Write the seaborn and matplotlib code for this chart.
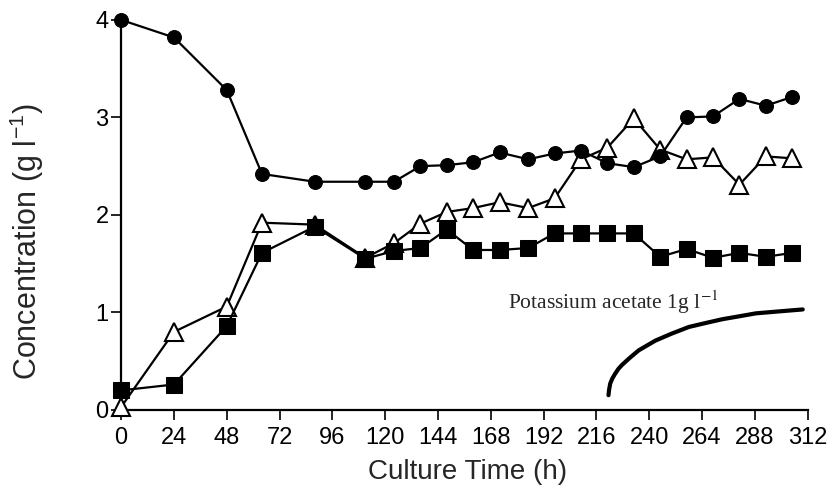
"""
Culture time course: three concentration series with potassium acetate feed curve
"""

import numpy as np
import pandas as pd
import matplotlib.pyplot as plt
import seaborn as sns

# values
TIME_H = [0, 24, 48, 64, 88, 111, 124, 136, 148, 160, 172, 185, 197, 209,
          221, 233, 245, 257, 269, 281, 293, 305]
CIRCLES = [4.00, 3.82, 3.28, 2.42, 2.34, 2.34, 2.34, 2.50, 2.51, 2.54, 2.64,
           2.57, 2.63, 2.66, 2.53, 2.49, 2.60, 3.00, 3.01, 3.19, 3.12, 3.21]
TRIANGLES = [0.03, 0.80, 1.06, 1.92, 1.90, 1.56, 1.71, 1.91, 2.03, 2.07, 2.13,
             2.07, 2.17, 2.57, 2.69, 2.99, 2.67, 2.57, 2.59, 2.31, 2.60, 2.58]
SQUARES = [0.20, 0.26, 0.86, 1.61, 1.88, 1.55, 1.63, 1.66, 1.85, 1.64, 1.64,
           1.66, 1.81, 1.81, 1.81, 1.81, 1.57, 1.65, 1.56, 1.61, 1.57, 1.61]

# potassium acetate feed curve (annotation)
ACETATE_T = [221.5, 221.8, 222.3, 223.2, 224.5, 226.0, 227.6, 231.0, 235.2,
             242.8, 250.0, 258.0, 265.5, 273.3, 281.0, 288.5, 299.0, 309.8]
ACETATE_C = [0.15, 0.21, 0.27, 0.32, 0.37, 0.42, 0.46, 0.53, 0.61, 0.71,
             0.78, 0.85, 0.89, 0.93, 0.96, 0.99, 1.01, 1.03]

X_TICKS = list(range(0, 313, 24))
Y_TICKS = [0, 1, 2, 3, 4]


def main():
    sns.set_style("ticks")
    plt.rcParams["font.family"] = ["Liberation Sans", "DejaVu Sans"]
    plt.rcParams["mathtext.fontset"] = "custom"
    plt.rcParams["mathtext.rm"] = "Liberation Sans"
    plt.rcParams["mathtext.it"] = "Liberation Sans:italic"

    fig = plt.figure(figsize=(8.3, 4.98), dpi=100)
    ax = fig.add_axes([0.146, 0.177, 0.827, 0.783])

    df = pd.DataFrame({
        "time": TIME_H,
        "circles": CIRCLES,
        "triangles": TRIANGLES,
        "squares": SQUARES,
    })

    common = dict(x="time", data=df, ax=ax, color="black", linewidth=1.6,
                  clip_on=False, errorbar=None)
    sns.lineplot(y="triangles", marker="^", markersize=13,
                 markerfacecolor="white", markeredgecolor="black",
                 markeredgewidth=1.5, zorder=3, **common)
    sns.lineplot(y="squares", marker="s", markersize=12,
                 markerfacecolor="black", markeredgecolor="black",
                 zorder=4, **common)
    sns.lineplot(y="circles", marker="o", markersize=10,
                 markerfacecolor="black", markeredgecolor="black",
                 zorder=5, **common)

    # acetate feed curve and its label
    ax.plot(ACETATE_T, ACETATE_C, color="black", linewidth=3.0,
            solid_capstyle="round", clip_on=False, zorder=2)
    ax.text(176, 1.03, r"Potassium acetate 1g l$^{\mathrm{-1}}$",
            fontsize=15.5, family="Liberation Serif", math_fontfamily="stix",
            ha="left", va="baseline")

    ax.set_xlim(0, 312)
    ax.set_ylim(0, 4)
    ax.set_xticks(X_TICKS)
    ax.set_yticks(Y_TICKS)
    ax.tick_params(axis="both", direction="out", length=7, width=1.2,
                   labelsize=17, colors="black")
    ax.tick_params(axis="x", pad=5)
    ax.tick_params(axis="y", pad=2)

    for side in ["top", "right"]:
        ax.spines[side].set_visible(False)
    for side in ["left", "bottom"]:
        ax.spines[side].set_linewidth(1.6)
        ax.spines[side].set_color("black")

    ax.set_xlabel("Culture Time (h)", fontsize=20)
    ax.set_ylabel(r"Concentration (g l$^{-1}$)", fontsize=22)
    ax.xaxis.set_label_coords(0.504, -0.125)
    ax.yaxis.set_label_coords(-0.11, 0.43)

    fig.savefig("out.png", dpi=100, facecolor="white")


if __name__ == "__main__":
    main()
